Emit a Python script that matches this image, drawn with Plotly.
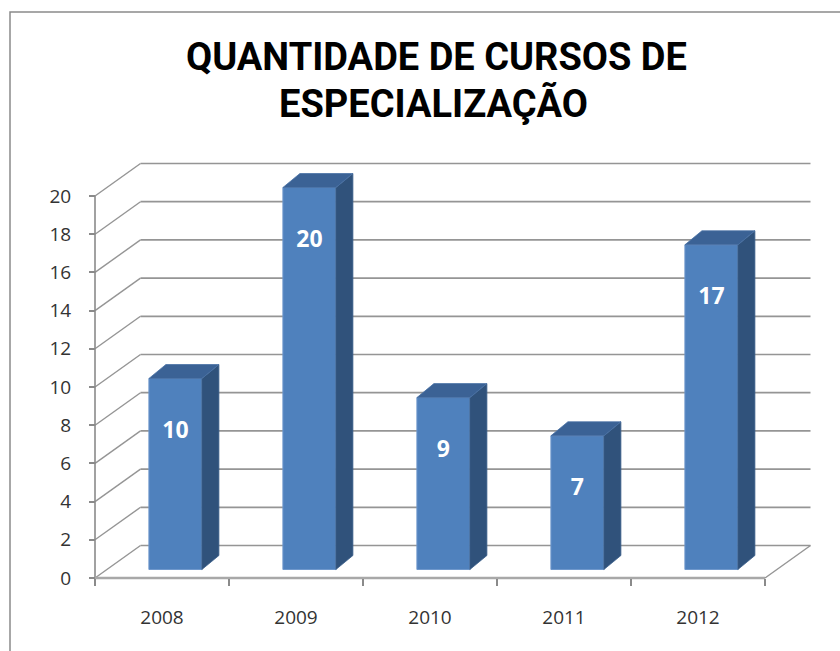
import plotly.graph_objects as go

# ---- data ----
years = ["2008", "2009", "2010", "2011", "2012"]
courses = [10, 20, 9, 7, 17]
y_ticks = [0, 2, 4, 6, 8, 10, 12, 14, 16, 18, 20]
title_lines = ["QUANTIDADE DE CURSOS DE", "ESPECIALIZAÇÃO"]

# ---- layout geometry (pixels) ----
W, H = 840, 651
L, R, T, B = 60, 835, 140, 600
PX0, XU = 95, 134.0      # pixel of x=-0.5, px per category
PY0, YU = 578, 19.1      # pixel of y=0 (front), px per unit

x_range = [-0.5 - (PX0 - L) / XU, -0.5 + (R - PX0) / XU]
y_range = [-(B - PY0) / YU, (PY0 - T) / YU]

# oblique depth of the back wall and of the bars
DX, DY = 45.5 / XU, 32.5 / YU
BAR_OFF, BAR_BASE, BAR_W = 0.10, 0.445, 53 / XU
BDX, BDY = 17 / XU, 14 / YU

xs = list(range(len(years)))
bar_x = [i + BAR_OFF for i in xs]

GRID = "#959595"
shapes = []
for v in y_ticks:
    shapes.append(dict(type="line", xref="x", yref="y", layer="below",
                       x0=-0.5 + DX, y0=v + DY, x1=len(years) - 0.5 + DX, y1=v + DY,
                       line=dict(color=GRID, width=1.7)))
    shapes.append(dict(type="line", xref="x", yref="y", layer="below",
                       x0=-0.5, y0=v, x1=-0.5 + DX, y1=v + DY,
                       line=dict(color=GRID, width=1.4)))
shapes.append(dict(type="line", xref="x", yref="y", layer="below",
                   x0=-0.5, y0=0, x1=-0.5, y1=y_ticks[-1],
                   line=dict(color="#8a8a8a", width=1.6)))
shapes.append(dict(type="line", xref="x", yref="y", layer="below",
                   x0=-0.5, y0=0, x1=len(years) - 0.5, y1=0,
                   line=dict(color="#a8a8a8", width=2.6)))
shapes.append(dict(type="line", xref="x", yref="y", layer="below",
                   x0=len(years) - 0.5, y0=0, x1=len(years) - 0.5 + DX, y1=DY,
                   line=dict(color=GRID, width=1.4)))
shapes.append(dict(type="rect", xref="paper", yref="paper",
                   x0=(10 - L) / (R - L), x1=(848 - L) / (R - L),
                   y0=(B - 660) / (B - T), y1=(B - 12) / (B - T),
                   line=dict(color="#8a8a8a", width=1.5), fillcolor="rgba(0,0,0,0)"))

fig = go.Figure()

fig.add_trace(go.Bar(
    x=bar_x, y=courses, base=[BAR_BASE] * len(courses), width=BAR_W,
    marker=dict(color="#4f81bd", line=dict(color="#6f98cc", width=1)),
    showlegend=False, hoverinfo="skip"))

for xc, v in zip(bar_x, courses):
    xl, xr = xc - BAR_W / 2, xc + BAR_W / 2
    b, t = BAR_BASE, BAR_BASE + v
    fig.add_trace(go.Scatter(
        x=[xr, xr + BDX, xr + BDX, xr, xr],
        y=[b, b + BDY, t + BDY, t, b],
        fill="toself", fillcolor="#30527b", mode="lines",
        line=dict(color="#3b5f8c", width=0.8), showlegend=False, hoverinfo="skip"))
    fig.add_trace(go.Scatter(
        x=[xl, xl + BDX, xr + BDX, xr, xl],
        y=[t, t + BDY, t + BDY, t, t],
        fill="toself", fillcolor="#3b6295", mode="lines",
        line=dict(color="#4a72a6", width=0.8), showlegend=False, hoverinfo="skip"))

fig.add_trace(go.Scatter(
    x=bar_x, y=[v + BAR_BASE - 2.8 for v in courses],
    text=[str(v) for v in courses], mode="text",
    textfont=dict(family="Open Sans", size=23, color="white", weight="bold"),
    showlegend=False, hoverinfo="skip"))

title_centres = [(436, 57.5), (433, 104.5)]
annotations = []
for line, (cx, cy) in zip(title_lines, title_centres):
    annotations.append(dict(
        text=line, showarrow=False, xref="paper", yref="paper",
        x=(cx - L) / (R - L), y=(B - cy) / (B - T), xanchor="center", yanchor="middle",
        font=dict(family="Roboto", size=38, color="#000000", weight="bold")))

fig.update_layout(
    width=W, height=H,
    margin=dict(l=L, r=W - R, t=T, b=H - B),
    paper_bgcolor="white", plot_bgcolor="white",
    shapes=shapes, annotations=annotations,
    xaxis=dict(range=x_range, anchor="free", position=(B - PY0) / (B - T),
               tickvals=xs, ticktext=years, ticks="", showgrid=False,
               zeroline=False, showline=False, ticklabelstandoff=26,
               tickfont=dict(family="Open Sans", size=19, color="#333333"),
               minor=dict(tickvals=[i - 0.5 for i in range(len(years) + 1)],
                          ticks="outside", ticklen=7, tickcolor="#8a8a8a",
                          tickwidth=1.6, showgrid=False)),
    yaxis=dict(range=y_range, anchor="free", position=(PX0 - L) / (R - L),
               tickvals=y_ticks, ticks="outside", ticklen=6, tickcolor="#8a8a8a",
               tickwidth=1.6, showgrid=False, zeroline=False, showline=False,
               ticklabelstandoff=14,
               tickfont=dict(family="Open Sans", size=19, color="#333333")),
)

fig.write_html("out.html", config={"displayModeBar": False},
               post_script="document.body.style.margin='0px';")
